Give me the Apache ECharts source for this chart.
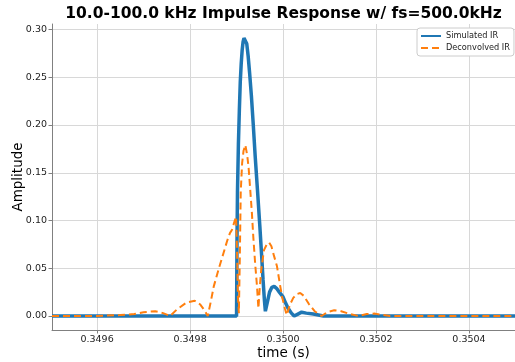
<!DOCTYPE html>
<html><head><meta charset="utf-8">
<script src="https://cdn.jsdelivr.net/npm/echarts@6/dist/echarts.min.js"></script>
<style>html,body{margin:0;padding:0;background:#fff}#c{width:515px;height:362px}</style>
</head><body><div id="c"></div>
<script>
const titleText = '10.0-100.0 kHz Impulse Response w/ fs=500.0kHz';
const seriesNames = ['Simulated IR', 'Deconvolved IR'];
const xTicks = [0.3496, 0.3498, 0.3500, 0.3502, 0.3504];
const yTicks = [0, 0.05, 0.10, 0.15, 0.20, 0.25, 0.30];

const simTime = [0.349503, 0.349900, 0.349901, 0.349902, 0.349904, 0.349906, 0.349908, 0.349910, 0.349912, 0.349914, 0.349916, 0.349918, 0.349920, 0.349922, 0.349925, 0.349928, 0.349932, 0.349936, 0.349940, 0.349945, 0.349950, 0.349954, 0.349957, 0.349960, 0.349962, 0.349964, 0.349967, 0.349971, 0.349976, 0.349981, 0.349986, 0.349992, 0.350000, 0.350006, 0.350011, 0.350018, 0.350024, 0.350032, 0.350040, 0.350050, 0.350065, 0.350087, 0.350499];
const simAmp  = [0, 0, 0.080, 0.130, 0.180, 0.215, 0.245, 0.264, 0.278, 0.287, 0.291, 0.293, 0.291, 0.285, 0.272, 0.255, 0.230, 0.200, 0.168, 0.132, 0.095, 0.063, 0.038, 0.016, 0.005, 0.006, 0.016, 0.025, 0.030, 0.031, 0.029, 0.025, 0.020, 0.013, 0.008, 0.003, 0.000, 0.002, 0.004, 0.003, 0.002, 0.000, 0];

const decTime = [0.349503, 0.349600, 0.349650, 0.349680, 0.349700, 0.349725, 0.349742, 0.349757, 0.349772, 0.349792, 0.349810, 0.349822, 0.349831, 0.349838, 0.349845, 0.349851, 0.349862, 0.349872, 0.349880, 0.349886, 0.349890, 0.349895, 0.349899, 0.349901, 0.349903, 0.349905, 0.349907, 0.349909, 0.349912, 0.349915, 0.349919, 0.349923, 0.349926, 0.349929, 0.349933, 0.349936, 0.349940, 0.349944, 0.349947, 0.349950, 0.349953, 0.349959, 0.349965, 0.349970, 0.349975, 0.349980, 0.349987, 0.349993, 0.349998, 0.350004, 0.350008, 0.350015, 0.350022, 0.350030, 0.350037, 0.350045, 0.350055, 0.350068, 0.350083, 0.350095, 0.350110, 0.350125, 0.350145, 0.350162, 0.350180, 0.350198, 0.350215, 0.350230, 0.350499];
const decAmp  = [0, 0.000, 0.001, 0.002, 0.004, 0.005, 0.003, 0.000, 0.007, 0.014, 0.016, 0.012, 0.006, 0.000, 0.016, 0.031, 0.050, 0.066, 0.079, 0.087, 0.090, 0.098, 0.104, 0.070, 0.020, 0.003, 0.060, 0.130, 0.160, 0.173, 0.179, 0.168, 0.155, 0.135, 0.108, 0.083, 0.055, 0.031, 0.008, 0.030, 0.048, 0.069, 0.075, 0.077, 0.073, 0.064, 0.052, 0.034, 0.020, 0.008, 0.001, 0.012, 0.019, 0.023, 0.024, 0.021, 0.013, 0.005, 0.000, 0.004, 0.006, 0.005, 0.002, 0.000, 0.002, 0.0025, 0.001, 0.000, 0];

const zip = (a, b) => a.map((v, i) => [v, b[i]]);
const FONT = 'DejaVu Sans';
const chart = echarts.init(document.getElementById('c'), null, {renderer: 'canvas'});
chart.setOption({
  animation: false,
  backgroundColor: '#ffffff',
  graphic: [{
    type: 'text', x: 283.5, y: 14,
    style: {text: titleText, font: 'bold 15.5px "DejaVu Sans"', fill: '#000', textAlign: 'center', textVerticalAlign: 'middle'}
  }],
  grid: {left: 52, right: 0, top: 24, bottom: 32, containLabel: false, outerBoundsMode: 'none'},
  legend: {
    orient: 'vertical', left: 417, top: 28,
    padding: [4, 4, 4, 3], itemGap: 4, itemWidth: 20, itemHeight: 8,
    backgroundColor: '#ffffff', borderColor: '#cccccc', borderWidth: 1, borderRadius: 3,
    itemStyle: {opacity: 0},
    textStyle: {fontFamily: FONT, fontSize: 8.2, color: '#222'},
    data: seriesNames
  },
  xAxis: {
    type: 'value', min: 0.349503, max: 0.350499,
    name: 'time (s)', nameLocation: 'middle', nameGap: 16, nameMoveOverlap: false,
    nameTextStyle: {fontFamily: FONT, fontSize: 13.5, color: '#000'},
    axisLine: {show: true, onZero: false, lineStyle: {color: '#808080', width: 1}},
    axisTick: {show: true, length: 3.5, customValues: xTicks, lineStyle: {color: '#808080'}},
    axisLabel: {customValues: xTicks, fontFamily: FONT, fontSize: 9.5, color: '#222', margin: 5, formatter: v => v.toFixed(4)},
    splitLine: {show: true, lineStyle: {color: '#d8d8d8', width: 1}}
  },
  yAxis: {
    type: 'value', min: -0.01466, max: 0.30576,
    name: 'Amplitude', nameLocation: 'middle', nameGap: 27, nameMoveOverlap: false,
    nameTextStyle: {fontFamily: FONT, fontSize: 13.5, color: '#000'},
    axisLine: {show: true, onZero: false, lineStyle: {color: '#808080', width: 1}},
    axisTick: {show: true, length: 3.5, customValues: yTicks, lineStyle: {color: '#808080'}},
    axisLabel: {customValues: yTicks, fontFamily: FONT, fontSize: 9.5, color: '#222', margin: 5, formatter: v => v.toFixed(2)},
    splitLine: {show: true, lineStyle: {color: '#d8d8d8', width: 1}}
  },
  series: [
    {name: seriesNames[0], type: 'line', data: zip(simTime, simAmp), symbol: 'none', smooth: false,
     lineStyle: {color: '#1f77b4', width: 3.5}, itemStyle: {color: '#1f77b4'}, z: 2},
    {name: seriesNames[1], type: 'line', data: zip(decTime, decAmp), symbol: 'none', smooth: false,
     lineStyle: {color: '#ff7f0e', width: 2, type: [7, 4]}, itemStyle: {color: '#ff7f0e'}, z: 3}
  ]
});
</script></body></html>
